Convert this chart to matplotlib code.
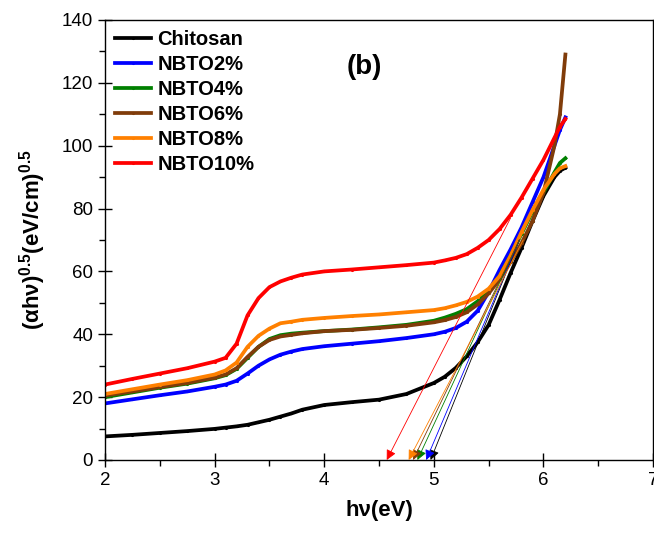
import matplotlib
matplotlib.use('Agg')
import matplotlib.pyplot as plt
from matplotlib.ticker import MultipleLocator

plt.rcParams['font.family'] = ['Liberation Sans', 'DejaVu Sans']
plt.rcParams['mathtext.fontset'] = 'custom'
plt.rcParams['mathtext.rm'] = 'Liberation Sans:bold'
plt.rcParams['mathtext.bf'] = 'Liberation Sans:bold'

# 光子能量 hν (eV)
energy = [2.0, 2.25, 2.5, 2.75, 3.0, 3.1, 3.2, 3.3, 3.4, 3.5, 3.6, 3.7, 3.8, 4.0, 4.25, 4.5,
          4.75, 5.0, 5.1, 5.2, 5.3, 5.4, 5.5, 5.6, 5.7, 5.8, 5.9, 6.0, 6.1, 6.15, 6.2]

chitosan = [7.5, 8.0, 8.6, 9.2, 9.9, 10.3, 10.7, 11.2, 12.0, 12.8, 13.8, 14.8, 16.0, 17.5, 18.4, 19.2,
            21.0, 24.5, 26.5, 29.3, 33.0, 37.5, 43.0, 51.0, 59.5, 67.5, 76.0, 84.0, 90.0, 92.0, 93.0]
nbto2 = [18.0, 19.3, 20.6, 21.8, 23.3, 24.0, 25.2, 27.5, 30.0, 32.0, 33.5, 34.5, 35.3, 36.2, 37.0, 37.8,
         38.8, 40.0, 40.8, 42.0, 44.0, 47.5, 53.5, 60.5, 67.0, 74.0, 82.0, 90.0, 100.0, 105.0, 109.0]
nbto4 = [20.0, 21.5, 23.0, 24.3, 26.0, 27.0, 29.0, 32.5, 36.0, 38.5, 39.7, 40.2, 40.5, 41.0, 41.5, 42.2,
         43.0, 44.3, 45.3, 46.5, 48.0, 50.5, 54.0, 58.5, 65.0, 72.0, 79.0, 85.0, 91.5, 94.5, 96.0]
nbto6 = [20.5, 21.8, 23.2, 24.5, 26.2, 27.2, 29.2, 32.8, 36.0, 38.2, 39.3, 39.8, 40.3, 41.0, 41.4, 42.0,
         42.7, 43.8, 44.5, 45.5, 47.0, 49.5, 53.0, 57.5, 63.0, 69.0, 76.0, 85.0, 100.0, 110.0, 129.0]
nbto8 = [21.0, 22.5, 24.0, 25.4, 27.2, 28.5, 31.0, 36.0, 39.5, 41.8, 43.5, 44.0, 44.6, 45.2, 45.8, 46.3,
         47.0, 47.7, 48.3, 49.2, 50.3, 52.0, 54.5, 58.5, 65.0, 72.5, 79.5, 86.0, 91.0, 92.8, 93.5]
nbto10 = [24.0, 25.8, 27.5, 29.2, 31.3, 32.5, 37.0, 46.0, 51.5, 55.0, 56.8, 58.0, 59.0, 60.0, 60.6, 61.3,
          62.0, 62.8, 63.5, 64.3, 65.5, 67.5, 70.0, 73.5, 78.0, 83.5, 89.5, 95.5, 102.5, 106.0, 108.5]

labels = ['Chitosan', 'NBTO2%', 'NBTO4%', 'NBTO6%', 'NBTO8%', 'NBTO10%']
colors = ['#000000', '#0000FF', '#008000', '#803C0A', '#FF8000', '#FF0000']

# 切线：起点 (x, y) 与 x 轴截距（带隙）
tangent_x = [5.78, 5.78, 5.78, 5.78, 5.815, 5.70]
tangent_y = [70, 70, 70, 70, 70, 77]
band_gap = [4.97, 4.93, 4.85, 4.81, 4.77, 4.57]


def draw():
    fig = plt.figure(figsize=(6.54, 5.36), dpi=100)
    ax = fig.add_axes([0.1606, 0.1418, 0.838, 0.821])

    series = [chitosan, nbto2, nbto4, nbto6, nbto8, nbto10]
    for ys, lab, c in zip(series, labels, colors):
        ax.plot(energy, ys, color=c, lw=2.7, marker='.', ms=2.5, label=lab)

    # 外推切线
    for xs, ys, eg, c in zip(tangent_x, tangent_y, band_gap, colors):
        ax.annotate('', xy=(eg, 0), xytext=(xs, ys),
                    arrowprops=dict(arrowstyle='-|>', color=c, lw=0.6, mutation_scale=15,
                                    shrinkA=0, shrinkB=0))

    ax.set_xlim(2, 7)
    ax.set_ylim(0, 140)
    ax.xaxis.set_major_locator(MultipleLocator(1))
    ax.xaxis.set_minor_locator(MultipleLocator(0.5))
    ax.yaxis.set_major_locator(MultipleLocator(20))
    ax.yaxis.set_minor_locator(MultipleLocator(10))
    ax.tick_params(which='major', direction='inout', length=10, width=1, labelsize=13.5)
    ax.tick_params(which='minor', direction='out', length=4, width=1)
    for s in ax.spines.values():
        s.set_linewidth(1)

    ax.set_xlabel('h\u03bd(eV)', fontsize=16, fontweight='bold', labelpad=8)
    ax.set_ylabel('(\u03b1h\u03bd)$^{0.5}$(eV/cm)$^{0.5}$', fontsize=16, fontweight='bold', labelpad=10)

    ax.text(4.37, 125, '(b)', fontsize=20, fontweight='bold', ha='center', va='center')

    ax.legend(loc='upper left', frameon=False, prop={'weight': 'bold', 'size': 14.5},
              handlelength=1.8, handletextpad=0.3, labelspacing=0.3,
              borderaxespad=0.3, borderpad=0.2)

    fig.savefig('out.png', dpi=100)


if __name__ == '__main__':
    draw()
